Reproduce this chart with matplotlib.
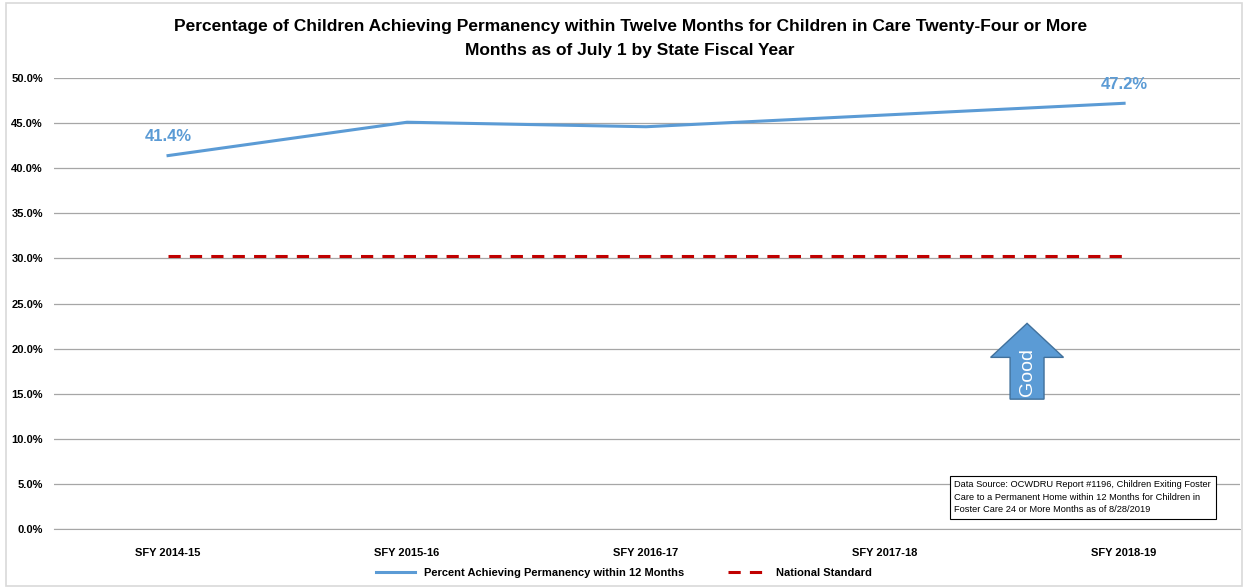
import matplotlib.pyplot as plt
from matplotlib.patches import FancyArrow, Rectangle
from matplotlib.ticker import FuncFormatter

years = ['SFY 2014-15', 'SFY 2015-16', 'SFY 2016-17', 'SFY 2017-18', 'SFY 2018-19']
pct_perm = [41.4, 45.1, 44.6, 45.9, 47.2]
national_std = [30.3, 30.3, 30.3, 30.3, 30.3]

blue = '#5B9BD5'
red = '#C00000'

plt.rcParams['font.family'] = ['Liberation Sans Narrow', 'Liberation Sans', 'DejaVu Sans']

fig = plt.figure(figsize=(12.48, 5.88), dpi=100)
fig.patches.append(Rectangle((0.005, 0.003), 0.99, 0.992, transform=fig.transFigure,
                             fill=False, edgecolor='#D9D9D9', linewidth=1.2))
ax = fig.add_axes([0.0433, 0.1003, 0.9503, 0.767])

x = list(range(len(years)))
ax.plot(x, pct_perm, color=blue, linewidth=2.2, label='Percent Achieving Permanency within 12 Months')
ax.plot(x, national_std, color=red, linewidth=2.2, linestyle=(0, (4, 3)), label='National Standard')

ax.set_xlim(-0.477, 4.485)
ax.set_ylim(0, 50)
ax.set_yticks(range(0, 51, 5))
ax.yaxis.set_major_formatter(FuncFormatter(lambda v, p: f'{v:.1f}%'))
ax.grid(axis='y', color='#A6A6A6', linewidth=0.9)
ax.set_axisbelow(True)
ax.set_xticks(x)
ax.set_xticklabels(years, fontsize=8, fontweight='bold')
for t in ax.get_yticklabels():
    t.set_fontsize(8)
    t.set_fontweight('bold')
ax.tick_params(length=0, pad=14)
ax.tick_params(axis='y', pad=8)
for s in ['top', 'right', 'left']:
    ax.spines[s].set_visible(False)
ax.spines['bottom'].set_color('#A6A6A6')

for i in [0, len(x) - 1]:
    ax.annotate(f'{pct_perm[i]}%', (x[i], pct_perm[i]), textcoords='offset points',
                xytext=(0, 8), ha='center', va='bottom', fontsize=12, color=blue,
                fontweight='bold')

# "Good" arrow
ax.add_patch(FancyArrow(3.594, 14.4, 0, 8.4, width=0.142, head_width=0.305,
                        head_length=3.77, length_includes_head=True,
                        facecolor=blue, edgecolor='#41719C', linewidth=1, zorder=5))
ax.text(3.594, 17.4, 'Good', rotation=90, ha='center', va='center', color='white',
        fontsize=14, zorder=6)

ax.text(3.29, 3.5,
        'Data Source: OCWDRU Report #1196, Children Exiting Foster\n'
        'Care to a Permanent Home within 12 Months for Children in\n'
        'Foster Care 24 or More Months as of 8/28/2019',
        fontsize=6.7, va='center', ha='left', linespacing=1.5,
        bbox=dict(boxstyle='square,pad=0.5', facecolor='white', edgecolor='black', linewidth=0.8))

fig.text(0.505, 0.935, 'Percentage of Children Achieving Permanency within Twelve Months for Children in Care Twenty-Four or More\nMonths as of July 1 by State Fiscal Year',
         ha='center', va='center', fontsize=12.5, fontweight='bold', linespacing=1.75)

fig.legend(loc='center', bbox_to_anchor=(0.5, 0.026), ncol=2, frameon=False,
           prop={'size': 8, 'weight': 'bold'}, columnspacing=4, handlelength=3.5)

fig.savefig('out.png', dpi=100)
